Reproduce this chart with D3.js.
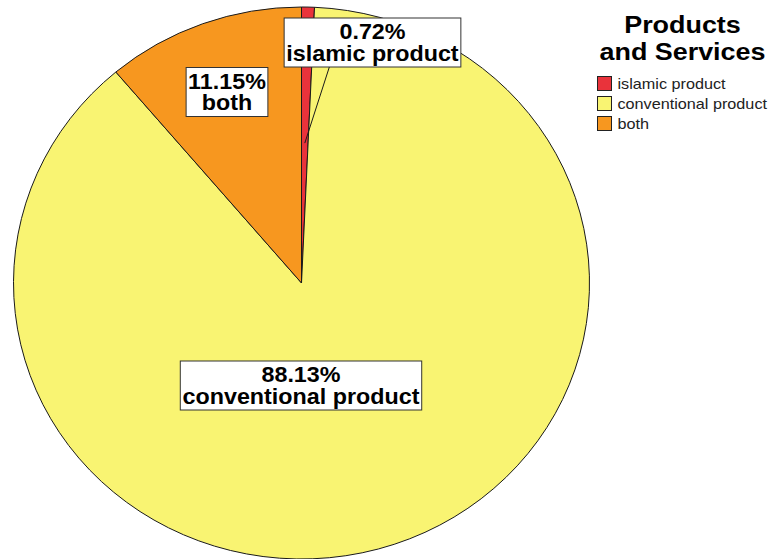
<!DOCTYPE html>
<html>
<head>
<meta charset="utf-8">
<script src="https://cdn.jsdelivr.net/npm/d3@7"></script>
<style>
  html, body { margin: 0; padding: 0; background: #fff; }
  svg { display: block; }
  text { font-family: "Liberation Sans", Arial, sans-serif; }
</style>
</head>
<body>
<svg id="chart" width="771" height="559"></svg>
<script>
// Products and Services — share of respondents
const categories = ["islamic product", "conventional product", "both"];
const percents = [0.72, 88.13, 11.15];
const colors = ["#e9333b", "#f9f472", "#f7971f"];
const legendTitle = ["Products", "and Services"];

const svg = d3.select("#chart");

// pie geometry (drawn slightly elliptical)
const cx = 301.5, cy = 283, rx = 288, ry = 276;

const pie = d3.pie().sort(null).value(d => d.value).startAngle(0).endAngle(2 * Math.PI);
const data = categories.map((c, i) => ({ name: c, value: percents[i], color: colors[i] }));
const arcs = pie(data);
const arc = d3.arc().innerRadius(0).outerRadius(rx);

const g = svg.append("g")
  .attr("transform", `translate(${cx},${cy}) scale(1,${ry / rx})`);

g.selectAll("path.slice")
  .data(arcs)
  .join("path")
  .attr("class", "slice")
  .attr("d", arc)
  .attr("fill", d => d.data.color)
  .attr("stroke", "#1a1a1a")
  .attr("stroke-width", 1)
  .attr("vector-effect", "non-scaling-stroke");

// polar point (angle, fraction of radius) in page coordinates
function pt(angle, f) {
  return [cx + rx * f * Math.sin(angle), cy - ry * f * Math.cos(angle)];
}

// horizontal widening of text around an anchor x
function widen(sel, x, s) {
  sel.attr("transform", `translate(${x},0) scale(${s},1) translate(${-x},0)`);
}

// label boxes: centre of each box in page coords
const labelLayout = {
  "islamic product": { x: 372.5, y: 42.5, leader: 0.507 },
  "conventional product": { x: 301, y: 385.5 },
  "both": { x: 227, y: 92 }
};
const labelStretch = 1.06;

const labelsG = svg.append("g");
arcs.forEach(a => {
  const L = labelLayout[a.data.name];
  if (L.leader) {
    const mid = (a.startAngle + a.endAngle) / 2;
    const p = pt(mid, L.leader);
    labelsG.append("line")
      .attr("x1", p[0]).attr("y1", p[1])
      .attr("x2", L.x - 43).attr("y2", L.y + 24)
      .attr("stroke", "#1a1a1a").attr("stroke-width", 1);
  }
  const box = labelsG.append("g");
  const rect = box.append("rect");
  const t = box.append("text")
    .attr("text-anchor", "middle")
    .attr("font-size", 22)
    .attr("font-weight", "bold")
    .attr("fill", "#000");
  t.append("tspan").attr("x", L.x).attr("y", L.y - 3).text(a.data.value.toFixed(2) + "%");
  t.append("tspan").attr("x", L.x).attr("y", L.y + 18.5).text(a.data.name);
  widen(t, L.x, labelStretch);
  const bb = t.node().getBBox();
  const w = bb.width * labelStretch + 4;
  rect.attr("x", L.x - w / 2).attr("y", L.y - 24.5)
    .attr("width", w).attr("height", 49)
    .attr("fill", "#fff").attr("stroke", "#333").attr("stroke-width", 1);
});

// legend
const lg = svg.append("g");
lg.selectAll("text.title")
  .data(legendTitle)
  .join("text")
  .attr("class", "title")
  .attr("x", 682.5)
  .attr("y", (d, i) => 33.5 + i * 26.5)
  .attr("text-anchor", "middle")
  .attr("font-size", 23)
  .attr("font-weight", "bold")
  .attr("fill", "#000")
  .text(d => d)
  .each(function () { widen(d3.select(this), 682.5, 1.17); });

const items = lg.selectAll("g.item")
  .data(data)
  .join("g")
  .attr("class", "item")
  .attr("transform", (d, i) => `translate(597.5,${76.5 + i * 20})`);
items.append("rect")
  .attr("width", 14).attr("height", 14)
  .attr("fill", d => d.color)
  .attr("stroke", "#222").attr("stroke-width", 1);
items.append("text")
  .attr("x", 20).attr("y", 12.5)
  .attr("font-size", 15)
  .attr("fill", "#222")
  .text(d => d.name)
  .each(function () { widen(d3.select(this), 20, 1.08); });
</script>
</body>
</html>
